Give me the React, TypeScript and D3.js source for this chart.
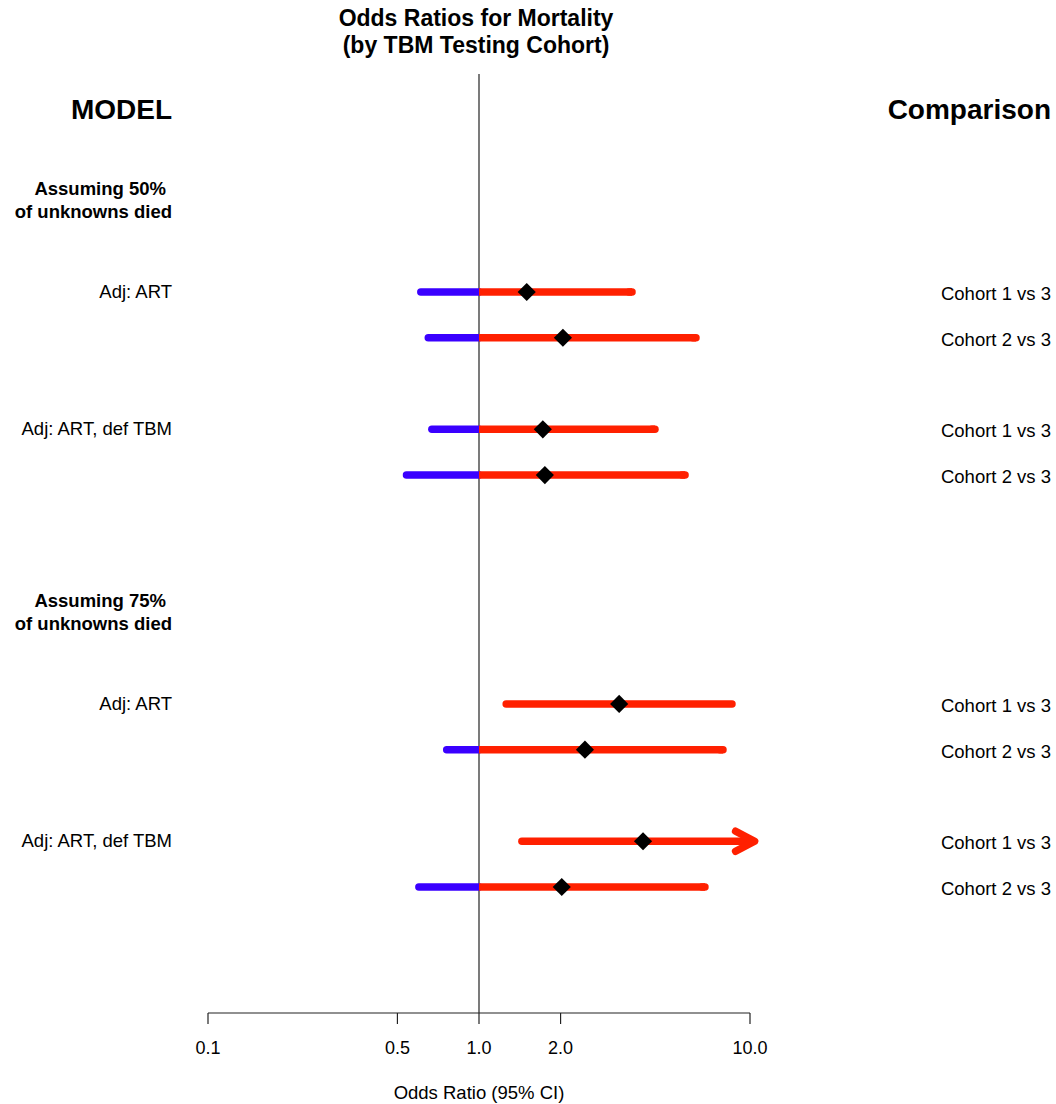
import React from "react";
import * as d3 from "d3";

const modelLabels = ["Adj: ART", "Adj: ART, def TBM", "Adj: ART", "Adj: ART, def TBM"];
const modelPos = [0, 3, 9, 12];
const sectionLabels = [["Assuming 50%", "of unknowns died"], ["Assuming 75%", "of unknowns died"]];
const sectionPos = [-2, 7];
const comparisons = ["Cohort 1 vs 3", "Cohort 2 vs 3", "Cohort 1 vs 3", "Cohort 2 vs 3", "Cohort 1 vs 3", "Cohort 2 vs 3", "Cohort 1 vs 3", "Cohort 2 vs 3"];
const rowPos = [0, 1, 3, 4, 9, 10, 12, 13];
const oddsRatio = [1.50, 2.04, 1.72, 1.75, 3.29, 2.46, 4.03, 2.02];
const ciLow = [0.61, 0.65, 0.67, 0.54, 1.26, 0.76, 1.44, 0.60];
const ciHigh = [3.67, 6.32, 4.46, 5.76, 8.58, 7.95, 10.4, 6.82];
const truncated = [false, false, false, false, false, false, true, false];
const tickValues = [0.1, 0.5, 1.0, 2.0, 10.0];
const tickLabels = ["0.1", "0.5", "1.0", "2.0", "10.0"];

const BLUE = "#3a00ff";
const RED = "#ff2000";
const FONT = "'Liberation Sans', Arial, sans-serif";

export default function App() {
  const x = d3.scaleLog().domain([0.1, 10]).range([208, 750]);
  const y = d3.scaleLinear().domain([0, 13]).range([292, 887]);
  const axisY = 1013;
  const x1 = x(1);
  const diamond = d3.symbol().type(d3.symbolDiamond2 ?? d3.symbolSquare).size(210)();
  const lw = 7.5;

  return (
    <svg width={1056} height={1104} style={{ position: "absolute", left: 0, top: 0 }} fontFamily={FONT}>
      <rect width={1056} height={1104} fill="#fff" />
      <text x={476} y={26} textAnchor="middle" fontWeight="bold" fontSize={23}>Odds Ratios for Mortality</text>
      <text x={476} y={53} textAnchor="middle" fontWeight="bold" fontSize={23}>(by TBM Testing Cohort)</text>

      <text x={172} y={119} textAnchor="end" fontWeight="bold" fontSize={28}>MODEL</text>
      <text x={1051} y={119} textAnchor="end" fontWeight="bold" fontSize={28}>Comparison</text>

      {sectionLabels.map((lines, i) => (
        <g key={"s" + i}>
          <text x={166} y={y(sectionPos[i]) - 5} textAnchor="end" fontWeight="bold" fontSize={18.5}>{lines[0]}</text>
          <text x={172} y={y(sectionPos[i]) + 18} textAnchor="end" fontWeight="bold" fontSize={18.5}>{lines[1]}</text>
        </g>
      ))}

      {modelLabels.map((l, i) => (
        <text key={"m" + i} x={172} y={y(modelPos[i]) + 6} textAnchor="end" fontSize={18.5}>{l}</text>
      ))}
      {comparisons.map((l, i) => (
        <text key={"c" + i} x={1051} y={y(rowPos[i]) + 8} textAnchor="end" fontSize={18.5}>{l}</text>
      ))}

      <line x1={x1} x2={x1} y1={74} y2={axisY} stroke="#222" strokeWidth={1.2} />

      {rowPos.map((p, i) => {
        const yy = y(p);
        const lo = ciLow[i];
        const hi = ciHigh[i];
        const redStart = Math.max(1, lo);
        const tipX = x(hi);
        return (
          <g key={"r" + i}>
            {lo < 1 && (
              <line x1={x(lo)} x2={x1} y1={yy} y2={yy} stroke={BLUE} strokeWidth={lw} strokeLinecap="round" />
            )}
            <line x1={x(redStart)} x2={truncated[i] ? tipX - 3 : tipX} y1={yy} y2={yy} stroke={RED} strokeWidth={lw} strokeLinecap={lo < 1 ? "butt" : "round"} />
            {lo < 1 && <line x1={tipX - 3} x2={tipX} y1={yy} y2={yy} stroke={RED} strokeWidth={lw} strokeLinecap="round" />}
            {truncated[i] && (
              <polyline points={`${tipX - 19},${yy - 10} ${tipX},${yy} ${tipX - 19},${yy + 10}`} fill="none" stroke={RED} strokeWidth={lw} strokeLinecap="round" strokeLinejoin="round" />
            )}
            <path d={diamond} transform={`translate(${x(oddsRatio[i])},${yy})`} fill="#000" />
          </g>
        );
      })}

      <line x1={x(0.1)} x2={x(10)} y1={axisY} y2={axisY} stroke="#222" strokeWidth={1.2} />
      {tickValues.map((t, i) => (
        <g key={"t" + i}>
          <line x1={x(t)} x2={x(t)} y1={axisY} y2={axisY + 11} stroke="#222" strokeWidth={1.2} />
          <text x={x(t)} y={axisY + 41} textAnchor="middle" fontSize={18}>{tickLabels[i]}</text>
        </g>
      ))}
      <text x={479} y={1099} textAnchor="middle" fontSize={18.5}>Odds Ratio (95% CI)</text>
    </svg>
  );
}
